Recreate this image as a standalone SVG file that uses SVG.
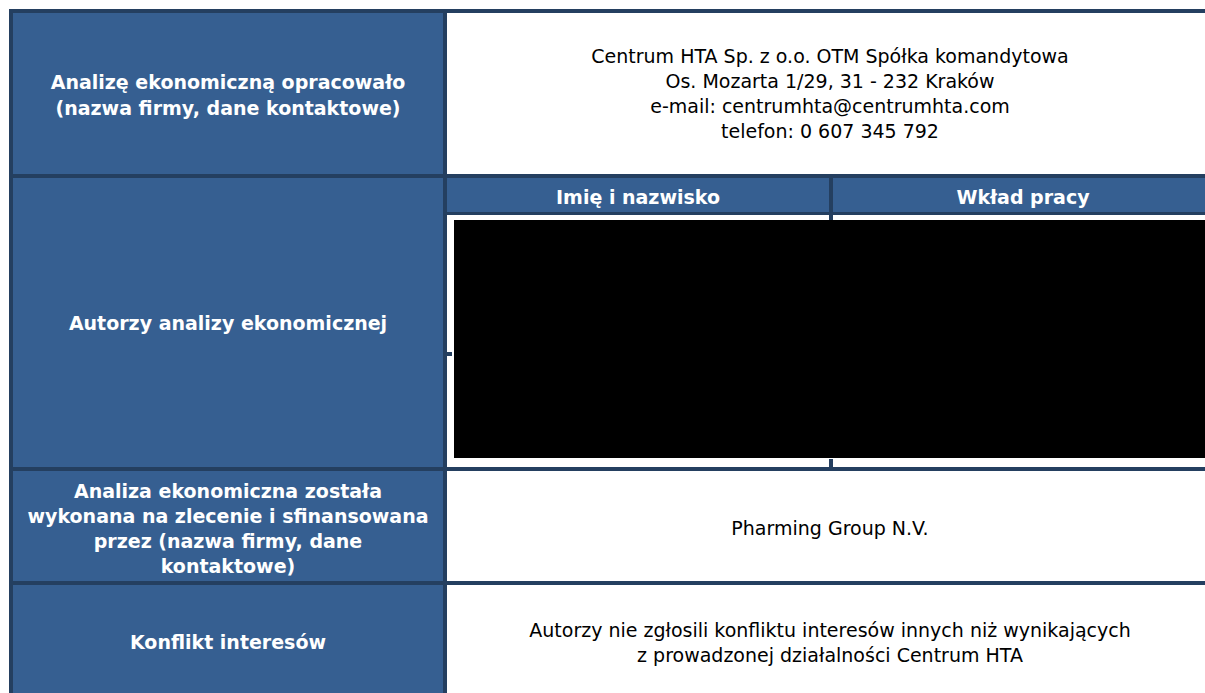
<svg xmlns="http://www.w3.org/2000/svg" width="1205" height="693" viewBox="0 0 1205 693">
<style>
.lab{fill:#365F91}
.bd{fill:#243F60}
.lt{font-family:"DejaVu Sans","Verdana",sans-serif;font-size:19px;font-weight:bold;fill:#ffffff;text-anchor:middle}
.vt{font-family:"DejaVu Sans","Verdana",sans-serif;font-size:19px;fill:#000000;text-anchor:middle}
</style>
<rect x="0" y="0" width="1205" height="693" fill="#ffffff"/>
<g id="row1-label">
<rect class="lab" x="13" y="13" width="430" height="161"/>
<text class="lt" x="228" y="89">Analizę ekonomiczną opracowało</text>
<text class="lt" x="228" y="114.5">(nazwa firmy, dane kontaktowe)</text>
</g>
<g id="row1-value">
<text class="vt" x="830" y="62.5">Centrum HTA Sp. z o.o. OTM Spółka komandytowa</text>
<text class="vt" x="830" y="87.5">Os. Mozarta 1/29, 31 - 232 Kraków</text>
<text class="vt" x="830" y="112.5">e-mail: centrumhta@centrumhta.com</text>
<text class="vt" x="830" y="137.5">telefon: 0 607 345 792</text>
</g>
<g id="row2-label">
<rect class="lab" x="13" y="178" width="430" height="289"/>
<text class="lt" x="228" y="330">Autorzy analizy ekonomicznej</text>
</g>
<g id="row2-header">
<rect class="lab" x="447" y="178" width="758" height="34"/>
<text class="lt" x="638" y="204">Imię i nazwisko</text>
<text class="lt" x="1023" y="204">Wkład pracy</text>
</g>
<g id="row2-redacted">
<rect x="454" y="220" width="751" height="238" fill="#000000"/>
</g>
<g id="row3-label">
<rect class="lab" x="13" y="471" width="430" height="110"/>
<text class="lt" x="228" y="497.5">Analiza ekonomiczna została</text>
<text class="lt" x="228" y="522.5">wykonana na zlecenie i sfinansowana</text>
<text class="lt" x="228" y="547.5">przez (nazwa firmy, dane</text>
<text class="lt" x="228" y="572.5">kontaktowe)</text>
</g>
<g id="row3-value">
<text class="vt" x="830" y="535">Pharming Group N.V.</text>
</g>
<g id="row4-label">
<rect class="lab" x="13" y="585" width="430" height="108"/>
<text class="lt" x="228" y="649">Konflikt interesów</text>
</g>
<g id="row4-value">
<text class="vt" x="830" y="636.5">Autorzy nie zgłosili konfliktu interesów innych niż wynikających</text>
<text class="vt" x="830" y="661.5">z prowadzonej działalności Centrum HTA</text>
</g>
<g id="borders">
<rect class="bd" x="9" y="9" width="1196" height="4"/>
<rect class="bd" x="9" y="9" width="4" height="684"/>
<rect class="bd" x="443" y="9" width="4" height="684"/>
<rect class="bd" x="9" y="174" width="1196" height="4"/>
<rect class="bd" x="447" y="212" width="758" height="3"/>
<rect class="bd" x="829" y="178" width="4" height="42"/>
<rect class="bd" x="829" y="459" width="4" height="8"/>
<rect class="bd" x="447" y="352" width="5" height="4"/>
<rect class="bd" x="9" y="467" width="1196" height="4"/>
<rect class="bd" x="9" y="581" width="1196" height="4"/>
</g>
</svg>
